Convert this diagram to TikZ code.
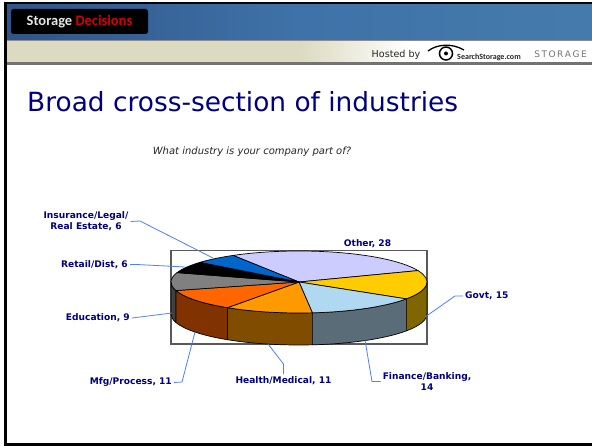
\documentclass[tikz,border=0pt]{standalone}
\usepackage{fontspec}
\setmainfont{DejaVu Sans}
\newfontfamily\humanist{Carlito}
\definecolor{ttl}{HTML}{000080}
\definecolor{lead}{HTML}{4D7FFF}
\definecolor{topa}{HTML}{2F5488}
\definecolor{topb}{HTML}{3F72A8}
\definecolor{topc}{HTML}{457BAC}
\definecolor{creama}{HTML}{DCDAC0}
\definecolor{c-other}{HTML}{CCCCFF}
\definecolor{c-govt}{HTML}{FFCC00}
\definecolor{c-fin}{HTML}{B0D8F0}
\definecolor{c-hea}{HTML}{FF9900}
\definecolor{c-mfg}{HTML}{FF6600}
\definecolor{c-edu}{HTML}{808080}
\definecolor{c-ins}{HTML}{0066CC}
\definecolor{w-govt}{HTML}{806600}
\definecolor{w-fin}{HTML}{5A6C78}
\definecolor{w-hea}{HTML}{804D00}
\definecolor{w-mfg}{HTML}{803300}
\definecolor{w-edu}{HTML}{404040}
\tikzset{
  x=1pt,y=-1pt,
  lbl/.style={font=\bfseries\fontsize{9.1}{11}\selectfont,text=ttl,align=center,inner sep=2pt},
  leader/.style={draw=lead,line width=.8pt},
  edge/.style={draw=black,line width=.7pt,line join=round},
}
\newcommand{\topslice}[3]{\path[edge,fill=#1] (299,282) -- ({299+128*cos(#2)},{282-31*sin(#2)}) arc[x radius=128,y radius=-31,start angle=#2,end angle=#3] -- cycle;}
\newcommand{\wall}[3]{\path[edge,fill=#1] ({299+128*cos(#2)},{282-31*sin(#2)}) arc[x radius=128,y radius=-31,start angle=#2,end angle=#3] -- ++(0,32) arc[x radius=128,y radius=-31,start angle=#3,end angle=#2] -- cycle;}
\begin{document}
\begin{tikzpicture}
\useasboundingbox (0,0) rectangle (592,446);
\fill[white] (0,0) rectangle (592,446);
% header
\shade[left color=topa,right color=topc,middle color=topb] (4,3) rectangle (592,41);
\fill[creama] (4,41) rectangle (300,64);
\shade[left color=creama,right color=white] (300,41) rectangle (410,64);
\fill[white] (410,41) rectangle (592,64);
\fill[black!55] (4,62.5) rectangle (592,65);
\fill[black!45] (4,40) rectangle (592,41.5);
\fill[black] (4,2.5) rectangle (592,4.5);
\fill[black] (4,2.5) rectangle (6.5,443);
\fill[black] (4,443) rectangle (592,446);
\node[fill=black,rounded corners=2.5pt,minimum width=137pt,minimum height=25pt,inner sep=0pt] (brand) at (79.5,21.5) {};
\node[font=\humanist\bfseries\fontsize{14.5}{16}\selectfont,inner sep=0pt] (brandtxt) at (79.5,22) {\textcolor{white!90!black}{Storage} \textcolor{red!85!black}{Decisions}};
\node[font=\fontsize{9.6}{11}\selectfont,text=black!85,inner sep=0pt] (hosted) at (396,54.5) {Hosted by};
\node[circle,draw=black,line width=1.5pt,minimum size=13pt,inner sep=0pt] (eye) at (446,53.5) {};
\node[circle,fill=black,minimum size=4pt,inner sep=0pt] (pupil) at (eye) {};
\draw[black,line width=1.3pt] (428,51) .. controls (437,44) and (452,43) .. (464,50);
\node[font=\humanist\bfseries\fontsize{8}{9}\selectfont,text=black!85,inner sep=0pt] (ss) at (489,57) {SearchStorage.com};
\node[font=\fontsize{9}{10}\selectfont,text=black!55,inner sep=0pt] (stor) at (560.5,54.5) {S\,T\,O\,R\,A\,G\,E};
% title
\node[font=\fontsize{26.4}{30}\selectfont,text=ttl,anchor=base west,inner sep=0pt] (title) at (27,112) {Broad cross-section of industries};
\node[font=\itshape\fontsize{10}{12}\selectfont,text=black!85,inner sep=0pt] (q) at (252,152) {What industry is your company part of?};
% plot frame
\draw[black!65,line width=1.1pt] (171,250.5) rectangle (427,344);
% pie walls
\wall{w-edu}{-164}{-180}
\wall{w-mfg}{-124}{-164}
\wall{w-hea}{-84}{-124}
\wall{w-fin}{-33}{-84}
\wall{w-govt}{0}{-33}
% pie top
\topslice{c-other}{21.6}{121}
\topslice{c-govt}{-33}{21.6}
\topslice{c-fin}{-84}{-33}
\topslice{c-hea}{-124}{-84}
\topslice{c-mfg}{-164}{-124}
\topslice{c-edu}{162.4}{196}
\topslice{black}{140.6}{162.4}
\topslice{c-ins}{121}{140.6}
% labels
\node[lbl] (other) at (367.5,244) {Other, 28};
\node[lbl] (ins) at (86,221.5) {Insurance/Legal/\\Real Estate, 6};
\node[lbl,anchor=east] (ret) at (130,264.5) {Retail/Dist, 6};
\node[lbl,anchor=east] (edu) at (132,318) {Education, 9};
\node[lbl,anchor=east] (mfg) at (174,382.5) {Mfg/Process, 11};
\node[lbl] (hea) at (283.5,380.5) {Health/Medical, 11};
\node[lbl] (fin) at (427,381.5) {Finance/Banking,\\14};
\node[lbl,anchor=west] (gov) at (463,296) {Govt, 15};
\coordinate (insp) at (213,258);
\coordinate (retp) at (185,267);
\coordinate (edup) at (172,313);
\coordinate (mfgp) at (195,332);
\coordinate (heap) at (268,344);
\coordinate (finp) at (365,340);
\coordinate (govp) at (425,317);
\draw[leader] (ins.east) -- (140,221) -- (insp);
\draw[leader] (ret.east) -- (137,264.5) -- (retp);
\draw[leader] (edu.east) -- (136,317.5) -- (edup);
\draw[leader] (mfg.east) -- (182,382) -- (mfgp);
\draw[leader] (hea.north) -- (283.5,364) -- (heap);
\draw[leader] (fin.west) -- (372,381.5) -- (finp);
\draw[leader] (gov.west) -- (455,296) -- (govp);
\end{tikzpicture}
\end{document}
